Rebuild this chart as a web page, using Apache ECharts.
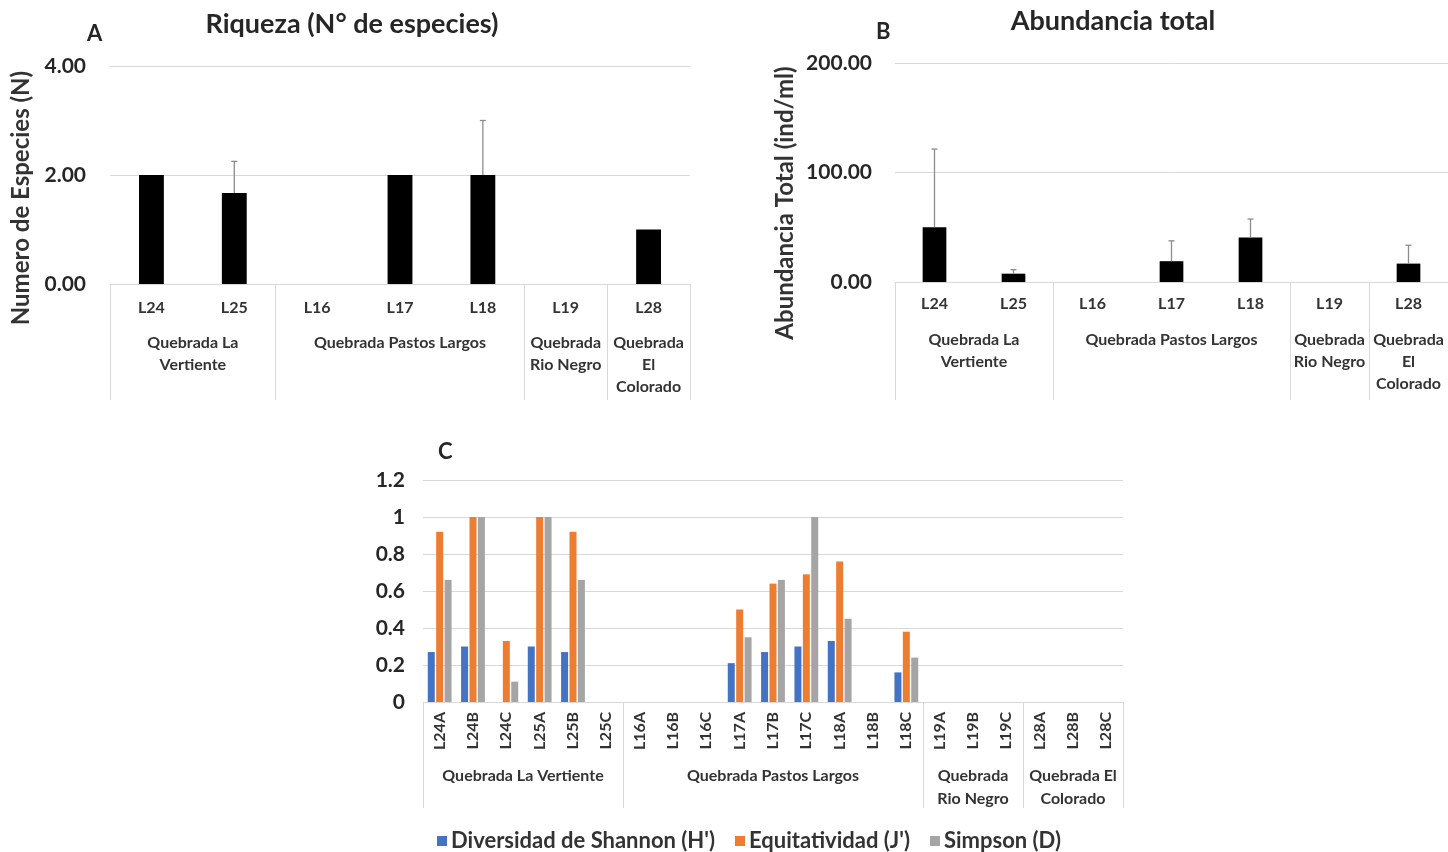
<!DOCTYPE html>
<html>
<head>
<meta charset="utf-8">
<script src="https://cdn.jsdelivr.net/npm/echarts@6/dist/echarts.min.js"></script>
<style>
  html, body { margin: 0; padding: 0; background: #fff; }
  #chart { width: 1448px; height: 852px; }
</style>
</head>
<body>
<div id="chart"></div>
<script>
// Sampling sites for panels A and B
const sitesAB = ['L24', 'L25', 'L16', 'L17', 'L18', 'L19', 'L28'];
const groupNamesA = ['Quebrada La\nVertiente', 'Quebrada Pastos Largos', 'Quebrada\nRio Negro', 'Quebrada\nEl\nColorado'];
const groupSizesAB = [2, 3, 1, 1];

// A: species richness (mean) and its error
const richness = [2.00, 1.67, 0, 2.00, 2.00, 0, 1.00];
const richnessErr = [0, 0.58, 0, 0, 1.00, 0, 0];

// B: total abundance (ind/ml) and its error
const abundance = [50.0, 7.6, 0, 19.0, 40.7, 0, 16.8];
const abundanceErr = [71.4, 3.7, 0, 18.6, 16.8, 0, 16.8];

// C: diversity indices per replicate
const sitesC = ['L24A', 'L24B', 'L24C', 'L25A', 'L25B', 'L25C',
  'L16A', 'L16B', 'L16C', 'L17A', 'L17B', 'L17C', 'L18A', 'L18B', 'L18C',
  'L19A', 'L19B', 'L19C', 'L28A', 'L28B', 'L28C'];
const groupNamesC = ['Quebrada La Vertiente', 'Quebrada Pastos Largos', 'Quebrada\nRio Negro', 'Quebrada El\nColorado'];
const groupSizesC = [6, 9, 3, 3];
const shannon  = [0.27, 0.30, 0,    0.30, 0.27, 0, 0, 0, 0, 0.21, 0.27, 0.30, 0.33, 0, 0.16, 0, 0, 0, 0, 0, 0];
const evenness = [0.92, 1.00, 0.33, 1.00, 0.92, 0, 0, 0, 0, 0.50, 0.64, 0.69, 0.76, 0, 0.38, 0, 0, 0, 0, 0, 0];
const simpson  = [0.66, 1.00, 0.11, 1.00, 0.66, 0, 0, 0, 0, 0.35, 0.66, 1.00, 0.45, 0, 0.24, 0, 0, 0, 0, 0, 0];
const indexNames = ["Diversidad de Shannon (H')", "Equitatividad (J')", 'Simpson (D)'];

const FONT = 'Lato, "Open Sans", "DejaVu Sans", sans-serif';
const TEXT = '#333';
const GRID_LINE = '#d9d9d9';

// boundaries and centres of the site groups, in category units
function groupLayout(sizes) {
  const bounds = [0];
  const centres = [];
  sizes.forEach(s => {
    const start = bounds[bounds.length - 1];
    centres.push(start + s / 2);
    bounds.push(start + s);
  });
  return { bounds, centres };
}

// second x axis carrying the group names and the long separators
function groupAxis(gridIndex, sizes, names, tickLen, labelMargin, lineHeight) {
  const g = groupLayout(sizes);
  const total = g.bounds[g.bounds.length - 1];
  return {
    type: 'value', gridIndex, min: 0, max: total, position: 'bottom',
    axisLine: { show: false },
    splitLine: { show: false },
    axisTick: { show: true, customValues: g.bounds, length: tickLen, lineStyle: { color: GRID_LINE, width: 1 } },
    axisLabel: {
      show: true, customValues: g.centres, margin: labelMargin,
      color: TEXT, fontFamily: FONT, fontSize: 16, fontWeight: 'bold', lineHeight, align: 'center',
      verticalAlign: 'top',
      formatter: v => {
        const k = g.centres.findIndex(c => Math.abs(c - v) < 1e-6);
        return k >= 0 ? names[k] : '';
      }
    }
  };
}

function errorSeries(xAxisIndex, yAxisIndex, values, errs) {
  return {
    type: 'custom', xAxisIndex, yAxisIndex, silent: true, z: 5,
    data: values.map((v, i) => [i, v, errs[i]]),
    renderItem: (params, api) => {
      const x = api.value(0), y = api.value(1), e = api.value(2);
      if (!e) return null;
      const p0 = api.coord([x, y]);
      const p1 = api.coord([x, y + e]);
      const style = { stroke: '#8c8c8c', lineWidth: 1.3 };
      return {
        type: 'group', children: [
          { type: 'line', shape: { x1: p0[0], y1: p0[1], x2: p1[0], y2: p1[1] }, style },
          { type: 'line', shape: { x1: p1[0] - 3, y1: p1[1], x2: p1[0] + 3, y2: p1[1] }, style }
        ]
      };
    }
  };
}

const catAxis = (gridIndex, data, labelExtra) => ({
  type: 'category', gridIndex, data, position: 'bottom',
  axisLine: { show: true, lineStyle: { color: GRID_LINE, width: 1 } },
  axisTick: { show: false },
  axisLabel: Object.assign({ color: TEXT, fontFamily: FONT, fontSize: 16, fontWeight: 'bold' }, labelExtra)
});

const valAxis = (gridIndex, min, max, interval, fmt, margin) => ({
  type: 'value', gridIndex, min, max, interval,
  axisLine: { show: false }, axisTick: { show: false },
  splitLine: { lineStyle: { color: GRID_LINE, width: 1 } },
  axisLabel: { color: '#262626', fontFamily: FONT, fontSize: 21, fontWeight: 'bold', margin, formatter: fmt }
});

const titleStyle = { fontFamily: FONT, fontSize: 27, fontWeight: 'bold', color: '#262626' };
const letterStyle = { fontFamily: FONT, fontSize: 22, fontWeight: 'bold', color: '#262626' };
const axisTitleFont = 'bold 24px ' + FONT;

const chart = echarts.init(document.getElementById('chart'), null, { renderer: 'canvas' });

chart.setOption({
  animation: false,
  backgroundColor: '#fff',
  title: [
    { text: 'A', left: 82, top: 18, textStyle: letterStyle },
    { text: 'Riqueza (N° de especies)', left: 347, top: 6, textAlign: 'center', textStyle: titleStyle },
    { text: 'B', left: 871, top: 16, textStyle: letterStyle },
    { text: 'Abundancia total', left: 1108, top: 3, textAlign: 'center', textStyle: titleStyle },
    { text: 'C', left: 433, top: 436, textStyle: letterStyle }
  ],
  graphic: [
    { type: 'text', x: 21, y: 198, rotation: Math.PI / 2,
      style: { text: 'Numero de Especies (N)', font: axisTitleFont, fill: TEXT, align: 'center', verticalAlign: 'middle' } },
    { type: 'text', x: 785, y: 203, rotation: Math.PI / 2,
      style: { text: 'Abundancia Total (ind/ml)', font: axisTitleFont, fill: TEXT, align: 'center', verticalAlign: 'middle' } }
  ],
  legend: {
    data: indexNames, left: 432, top: 825, itemWidth: 10, itemHeight: 10, itemGap: 20,
    icon: 'rect',
    textStyle: { fontFamily: FONT, fontSize: 22, fontWeight: 'bold', color: TEXT, padding: [0, 0, 0, -1] }
  },
  grid: [
    { left: 110, top: 66, width: 580, height: 218 },
    { left: 895, top: 63, width: 556, height: 219 },
    { left: 423, top: 480, width: 700, height: 222 }
  ],
  xAxis: [
    catAxis(0, sitesAB, { margin: 16 }),
    groupAxis(0, groupSizesAB, groupNamesA, 116, 48, 22),
    catAxis(1, sitesAB, { margin: 14 }),
    groupAxis(1, groupSizesAB, groupNamesA, 118, 47, 22),
    catAxis(2, sitesC, { rotate: 90, margin: 10 }),
    groupAxis(2, groupSizesC, groupNamesC, 106, 62, 23)
  ],
  yAxis: [
    valAxis(0, 0, 4, 2, v => v.toFixed(2), 24),
    valAxis(1, 0, 200, 100, v => v.toFixed(2), 23),
    valAxis(2, 0, 1.2, 0.2, v => String(Number(v.toFixed(1))), 18)
  ],
  series: [
    { type: 'bar', name: 'Riqueza', xAxisIndex: 0, yAxisIndex: 0, data: richness,
      barWidth: '30%', itemStyle: { color: '#000' } },
    errorSeries(0, 0, richness, richnessErr),
    { type: 'bar', name: 'Abundancia', xAxisIndex: 2, yAxisIndex: 1, data: abundance,
      barWidth: '30%', itemStyle: { color: '#000' } },
    errorSeries(2, 1, abundance, abundanceErr),
    { type: 'bar', name: indexNames[0], xAxisIndex: 4, yAxisIndex: 2, data: shannon,
      barWidth: 7, barGap: '20%', itemStyle: { color: '#4472C4' } },
    { type: 'bar', name: indexNames[1], xAxisIndex: 4, yAxisIndex: 2, data: evenness,
      barWidth: 7, barGap: '20%', itemStyle: { color: '#ED7D31' } },
    { type: 'bar', name: indexNames[2], xAxisIndex: 4, yAxisIndex: 2, data: simpson,
      barWidth: 7, barGap: '20%', itemStyle: { color: '#A5A5A5' } }
  ]
});
</script>
</body>
</html>
